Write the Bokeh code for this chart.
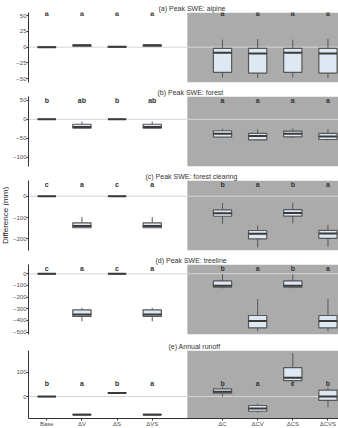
import math

from bokeh.core.properties import value
from bokeh.embed import file_html
from bokeh.layouts import column, row
from bokeh.models import (BoxAnnotation, ColumnDataSource, FixedTicker, Range1d,
                          Span, Title)
from bokeh.plotting import figure
from bokeh.resources import INLINE

# Scenario order along the x axis (an empty slot separates the two groups)
scenarios = ["Base", "ΔV", "ΔS", "ΔVS", "ΔC", "ΔCV", "ΔCS", "ΔCVS"]
slots = [1, 2, 3, 4, 6, 7, 8, 9]

# (a) Peak SWE: alpine  -- five-number summaries (mm)
alpine_low = [0, 1, 0, 1, -48, -49, -48, -49]
alpine_q1 = [0, 1.5, 0, 1.5, -40, -41, -40, -41]
alpine_med = [0, 3, 0.5, 3, -9, -10, -9, -10]
alpine_q3 = [0.5, 3.5, 1, 3.5, -2, -2, -2, -2]
alpine_high = [0.5, 5, 1, 5, 12, 13, 12, 13]
alpine_groups = ["a", "a", "a", "a", "a", "a", "a", "a"]

# (b) Peak SWE: forest
forest_low = [0, -24, 0, -24, -49, -56, -49, -56]
forest_q1 = [0, -23, 0, -23, -47, -54, -46, -53]
forest_med = [0, -20, 0, -20, -38, -44, -38, -45]
forest_q3 = [0, -13, 0, -13, -30, -37, -31, -37]
forest_high = [0, -6, 0, -6, -25, -26, -24, -26]
forest_groups = ["b", "ab", "b", "ab", "a", "a", "a", "a"]

# (c) Peak SWE: forest clearing
clearing_low = [0, -150, 0, -150, -130, -240, -128, -238]
clearing_q1 = [0, -148, 0, -148, -94, -200, -93, -198]
clearing_med = [0, -140, 0, -140, -80, -176, -79, -175]
clearing_q3 = [0, -125, 0, -125, -64, -161, -63, -160]
clearing_high = [0, -98, 0, -98, -31, -137, -30, -135]
clearing_groups = ["c", "a", "c", "a", "b", "a", "b", "a"]

# (d) Peak SWE: treeline
treeline_low = [0, -408, 0, -408, -125, -493, -125, -493]
treeline_q1 = [0, -366, 0, -366, -114, -464, -114, -464]
treeline_med = [0, -349, 0, -349, -103, -405, -103, -405]
treeline_q3 = [0, -309, 0, -309, -61, -358, -61, -358]
treeline_high = [0, -292, 0, -292, -4, -216, -4, -216]
treeline_groups = ["c", "a", "c", "a", "b", "a", "b", "a"]

# (e) Annual runoff
runoff_low = [0, -76, 15, -76, 0, -68, 48, -45]
runoff_q1 = [0, -75, 15, -75, 14, -61, 66, -16]
runoff_med = [0, -75, 15, -75, 20, -50, 78, 0]
runoff_q3 = [0, -74, 16, -74, 32, -37, 120, 27]
runoff_high = [0, -74, 16, -74, 41, -30, 180, 38]
runoff_groups = ["b", "a", "b", "a", "b", "a", "c", "b"]

titles = ["(a) Peak SWE: alpine", "(b) Peak SWE: forest",
          "(c) Peak SWE: forest clearing", "(d) Peak SWE: treeline",
          "(e) Annual runoff"]
y_ticks = [[-50, -25, 0, 25, 50], [-100, -50, 0, 50], [-200, -100, 0],
           [-500, -400, -300, -200, -100, 0], [0, 100]]

panels = [
    (alpine_low, alpine_q1, alpine_med, alpine_q3, alpine_high, alpine_groups),
    (forest_low, forest_q1, forest_med, forest_q3, forest_high, forest_groups),
    (clearing_low, clearing_q1, clearing_med, clearing_q3, clearing_high, clearing_groups),
    (treeline_low, treeline_q1, treeline_med, treeline_q3, treeline_high, treeline_groups),
    (runoff_low, runoff_q1, runoff_med, runoff_q3, runoff_high, runoff_groups),
]

# Layout / style per panel: y limits, height of letter row, title offset
y_limits = [(-56, 55), (-124, 60), (-255, 74), (-521, 80), (-91, 191)]
letter_y = [53, 49, 55, 45, 55]
title_offset = [130, 129, 117, 127, 140]

FONT = "Liberation Sans"
BOX_W = 0.52
GREY_BG = "#ababab"
BOX_FILL = "#dde8f2"
BOX_LINE = "#575757"
LABEL_W = 9


def style_axis(ax):
    ax.axis_line_color = "#333333"
    ax.major_tick_line_color = "#333333"
    ax.major_tick_out = 2
    ax.major_tick_in = 0
    ax.minor_tick_line_color = None
    ax.major_label_standoff = 0
    ax.major_label_text_font_size = "6px"
    ax.major_label_text_font = FONT
    ax.major_label_text_color = "#4d4d4d"


figs = []
for i, (lo, q1, med, q3, hi, grp) in enumerate(panels):
    last = i == len(panels) - 1
    p = figure(width=338 - LABEL_W, frame_height=68 if last else 70,
               x_range=Range1d(0.48, 9.3), y_range=Range1d(*y_limits[i]),
               toolbar_location=None, output_backend="svg",
               x_axis_location="below" if last else None,
               min_border_left=17, min_border_right=0,
               min_border_top=14 if last else 12,
               min_border_bottom=10 if last else 2)
    p.grid.visible = False
    p.outline_line_color = None

    p.add_layout(Title(text=titles[i], align="left", offset=title_offset[i],
                       text_font_size="7px", text_font_style="normal",
                       text_font=FONT, text_color="#333333", standoff=2), "above")

    # shaded climate-change scenarios
    p.add_layout(BoxAnnotation(left=5, fill_color=GREY_BG, fill_alpha=1,
                               line_color=None, level="underlay"))
    p.add_layout(Span(location=0, dimension="width", line_color="#d6d6d6",
                      line_width=1, level="underlay"))

    src = ColumnDataSource(dict(
        x=slots, lo=lo, q1=q1, med=med, q3=q3, hi=hi, grp=grp,
        left=[s - BOX_W / 2 for s in slots], right=[s + BOX_W / 2 for s in slots],
        ly=[letter_y[i]] * len(slots)))

    p.segment(x0="x", y0="q3", x1="x", y1="hi", source=src,
              line_color=BOX_LINE, line_width=1)
    p.segment(x0="x", y0="lo", x1="x", y1="q1", source=src,
              line_color=BOX_LINE, line_width=1)
    p.vbar(x="x", width=BOX_W, bottom="q1", top="q3", source=src,
           fill_color=BOX_FILL, line_color=BOX_LINE, line_width=1.2)
    p.segment(x0="left", y0="med", x1="right", y1="med", source=src,
              line_color="#3a3a3a", line_width=2)
    p.text(x="x", y="ly", text="grp", source=src, text_align="center",
           text_baseline="middle", text_font=value(FONT), text_font_size="7px",
           text_font_style="bold", text_color="#333333")

    yax = p.yaxis[0]
    yax.ticker = FixedTicker(ticks=y_ticks[i])
    style_axis(yax)

    if last:
        xax = p.xaxis[0]
        xax.ticker = FixedTicker(ticks=slots)
        xax.major_label_overrides = {s: n for s, n in zip(slots, scenarios)}
        style_axis(xax)
    figs.append(p)

# shared y-axis title in a narrow strip to the left of the panels
lab = figure(width=LABEL_W, height=428, x_range=Range1d(0, 1), y_range=Range1d(0, 428),
             toolbar_location=None, output_backend="svg", min_border=0)
lab.axis.visible = False
lab.grid.visible = False
lab.outline_line_color = None
lab.text(x=[0.5], y=[213], text=["Difference (mm)"], angle=math.pi / 2,
         text_align="center", text_baseline="middle", text_font=value(FONT),
         text_font_size="8px", text_color="#222222")

layout = row(lab, column(*figs, spacing=0), spacing=0)
open("out.html", "w").write(file_html(layout, INLINE))
